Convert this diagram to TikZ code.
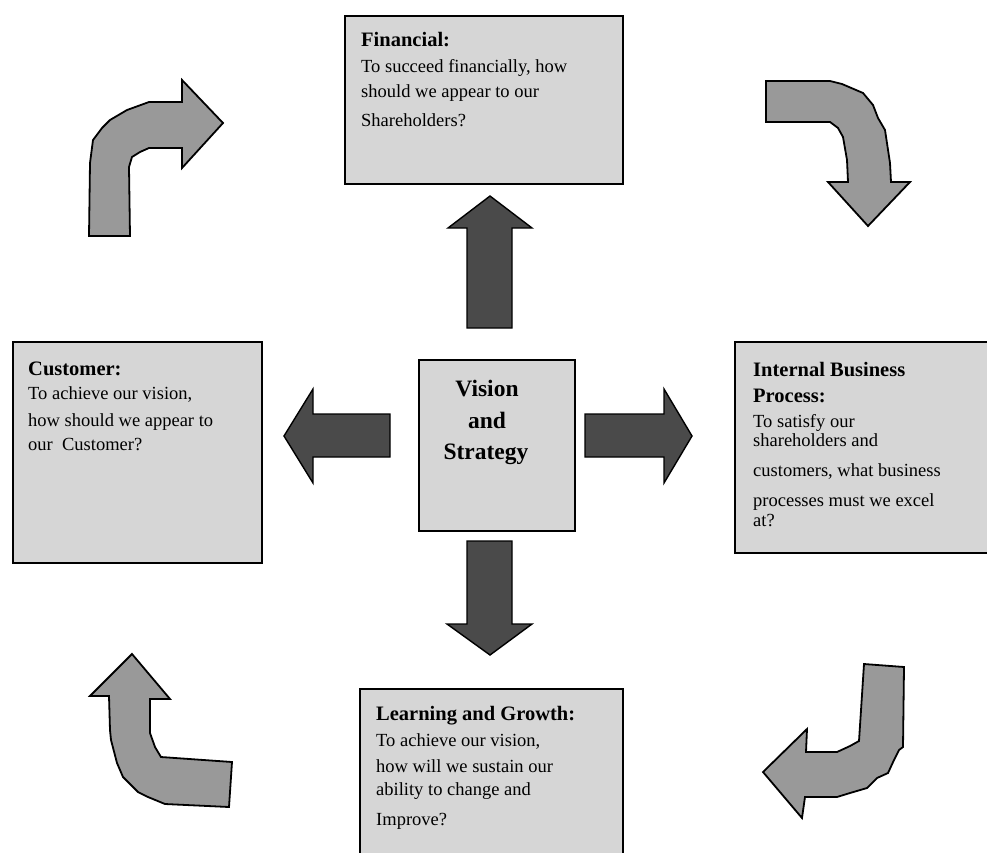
\documentclass[tikz,border=0pt]{standalone}
\usepackage{fontspec}
\setmainfont{Liberation Serif}
\definecolor{panelgray}{HTML}{D6D6D6}
\definecolor{blockdark}{HTML}{4A4A4A}
\definecolor{turngray}{HTML}{999999}
\begin{document}
\begin{tikzpicture}[x=1pt,y=-1pt,
  panel/.style={draw=black, line width=1.8pt, fill=panelgray, inner sep=0pt, anchor=north west},
  headtxt/.style={anchor=base west, inner sep=0pt, font=\fontsize{20.5}{24}\selectfont\bfseries},
  bodytxt/.style={anchor=base west, inner sep=0pt, font=\fontsize{18.5}{22}\selectfont},
  coretxt/.style={anchor=base, inner sep=0pt, font=\fontsize{23.5}{28}\selectfont\bfseries},
  blockarrow/.style={draw=black, line width=1.4pt, fill=blockdark, line join=miter},
  turnarrow/.style={draw=black, line width=1.8pt, fill=turngray, line join=miter}]
\useasboundingbox (0,0) rectangle (987,852);
\clip (0,0) rectangle (987,852);

% perspective panels
\node[panel, minimum width=278pt, minimum height=168pt] (fin) at (344,15) {};
\node[panel, minimum width=249pt, minimum height=221pt] (cus) at (12,341) {};
\node[panel, minimum width=260pt, minimum height=211pt] (ibp) at (734,341) {};
\node[panel, minimum width=263pt, minimum height=190pt] (lag) at (359,688) {};
\node[panel, minimum width=156pt, minimum height=171pt] (core) at (418,359) {};

% block arrows leaving the core
\draw[blockarrow] (467,328) -- (467,228) -- (448,228) -- (490,196) -- (532,228) -- (512,228) -- (512,328) -- cycle;
\draw[blockarrow] (467,541) -- (467,624) -- (447,624) -- (490,655) -- (532,624) -- (512,624) -- (512,541) -- cycle;
\draw[blockarrow] (390,414) -- (313,414) -- (313,389) -- (284,436) -- (313,483) -- (313,457) -- (390,457) -- cycle;
\draw[blockarrow] (585,414) -- (664,414) -- (664,389) -- (692,436) -- (664,483) -- (664,457) -- (585,457) -- cycle;

% turning arrows in the corners
\draw[turnarrow] (89,236) -- (130,236) -- (129,167) -- (132,157) -- (140,152) -- (149,148)
  -- (182,148) -- (182,168) -- (223,123) -- (182,80) -- (182,102) -- (149,102)
  -- (127,110) -- (110,120) -- (102,128) -- (93,140) -- (90,163) -- cycle;
\draw[turnarrow] (766,81) -- (830,81) -- (842,84) -- (863,93) -- (873,105) -- (878,118)
  -- (885,130) -- (890,163) -- (891,182) -- (910,182) -- (868,226) -- (828,182)
  -- (848,182) -- (847,160) -- (843,137) -- (838,128) -- (830,122) -- (766,122) -- cycle;
\draw[turnarrow] (132,654) -- (170,699) -- (150,699) -- (150,733) -- (155,747) -- (161,757)
  -- (232,762) -- (229,807) -- (165,804) -- (148,797) -- (138,792) -- (123,777)
  -- (117,763) -- (111,740) -- (110,730) -- (109,696) -- (90,696) -- cycle;
\draw[turnarrow] (864,664) -- (904,667) -- (903,747) -- (899,750) -- (894,760) -- (888,773)
  -- (877,778) -- (867,788) -- (850,793) -- (837,797) -- (805,797) -- (802,818)
  -- (763,772) -- (807,729) -- (806,752) -- (837,752) -- (850,746) -- (859,741) -- cycle;

% core text
\node[coretxt] (v1) at (487,396.7) {Vision};
\node[coretxt] (v2) at (487,428.3) {and};
\node[coretxt] (v3) at (486,459.3) {Strategy};

% financial
\node[headtxt] (f0) at (361,46.7) {Financial:};
\node[bodytxt] (f1) at (361,72.7) {To succeed financially, how};
\node[bodytxt] (f2) at (361,97.7) {should we appear to our};
\node[bodytxt] (f3) at (361,126.7) {Shareholders?};

% customer
\node[headtxt] (c0) at (28,375.7) {Customer:};
\node[bodytxt] (c1) at (28,399) {To achieve our vision,};
\node[bodytxt] (c2) at (28,426.7) {how should we appear to};
\node[bodytxt] (c3) at (28,450.7) {our\ \ Customer?};

% internal business process
\node[headtxt] (i0) at (753,376.7) {Internal Business};
\node[headtxt] (i1) at (753,402.3) {Process:};
\node[bodytxt] (i2) at (753,427.7) {To satisfy our};
\node[bodytxt] (i3) at (753,446.7) {shareholders and};
\node[bodytxt] (i4) at (753,476.7) {customers, what business};
\node[bodytxt] (i5) at (753,506.7) {processes must we excel};
\node[bodytxt] (i6) at (753,526.7) {at?};

% learning and growth
\node[headtxt] (l0) at (376,720) {Learning and Growth:};
\node[bodytxt] (l1) at (376,746.7) {To achieve our vision,};
\node[bodytxt] (l2) at (376,772.7) {how will we sustain our};
\node[bodytxt] (l3) at (376,795) {ability to change and};
\node[bodytxt] (l4) at (376,825) {Improve?};
\end{tikzpicture}
\end{document}
